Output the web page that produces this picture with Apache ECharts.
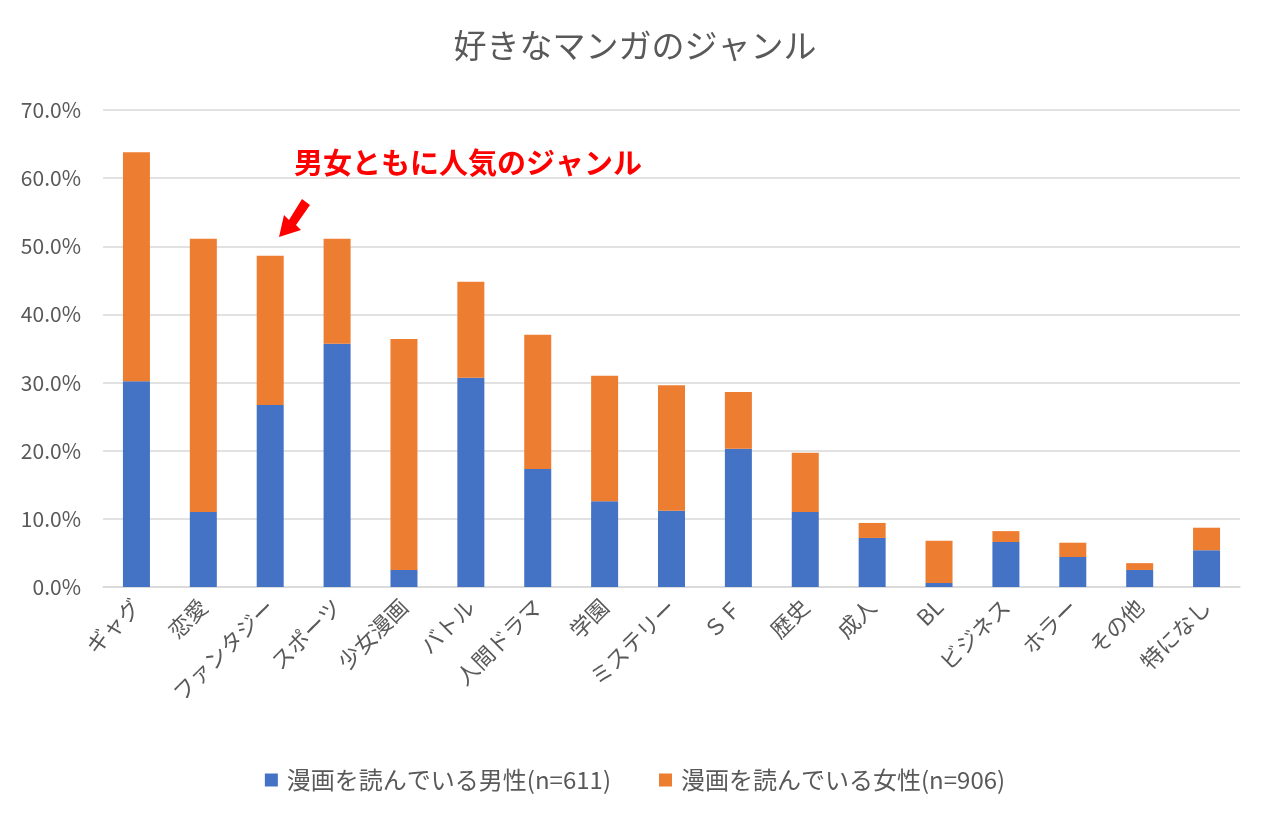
<!DOCTYPE html>
<html><head><meta charset="utf-8">
<script src="https://cdn.jsdelivr.net/npm/echarts@6/dist/echarts.min.js"></script>
<style>html,body{margin:0;padding:0;background:#fff}#c{width:1270px;height:821px}</style>
</head><body><div id="c"></div>
<script>
const categories = ['ギャグ','恋愛','ファンタジー','スポーツ','少女漫画','バトル','人間ドラマ','学園','ミステリー','ＳＦ','歴史','成人','BL','ビジネス','ホラー','その他','特になし'];
const male = [30.2, 11.0, 26.7, 35.7, 2.5, 30.7, 17.3, 12.6, 11.2, 20.3, 11.0, 7.2, 0.6, 6.6, 4.4, 2.5, 5.4];
const female = [33.6, 40.1, 21.9, 15.4, 33.9, 14.1, 19.7, 18.4, 18.4, 8.3, 8.7, 2.2, 6.2, 1.6, 2.1, 1.0, 3.3];
const seriesNames = ['漫画を読んでいる男性(n=611)','漫画を読んでいる女性(n=906)'];
const FONT = '"Noto Sans CJK JP", sans-serif';
const chart = echarts.init(document.getElementById('c'));
chart.setOption({
  animation:false,
  title:{text:'好きなマンガのジャンル',left:'center',top:24,textStyle:{fontFamily:FONT,fontSize:33,fontWeight:'normal',color:'#595959'}},
  grid:{left:103,right:30,top:110,bottom:234},
  legend:{bottom:24,left:'center',itemWidth:13,itemHeight:13,itemGap:48,icon:'rect',
    textStyle:{fontFamily:FONT,fontSize:24,color:'#595959',padding:[0,0,0,4]}},
  xAxis:{type:'category',data:categories,
    axisLine:{lineStyle:{color:'#d9d9d9',width:1.5}},axisTick:{show:false},
    axisLabel:{rotate:45,interval:0,fontFamily:FONT,fontSize:22,color:'#595959',margin:16}},
  yAxis:{type:'value',min:0,max:70,interval:10,
    axisLabel:{formatter:v=>v.toFixed(1)+'%',fontFamily:FONT,fontSize:21,color:'#595959',margin:22},
    splitLine:{lineStyle:{color:'#d9d9d9',width:1.5}},axisLine:{show:false},axisTick:{show:false}},
  series:[
    {name:seriesNames[0],type:'bar',stack:'a',data:male,barWidth:27,itemStyle:{color:'#4472c4'}},
    {name:seriesNames[1],type:'bar',stack:'a',data:female,barWidth:27,itemStyle:{color:'#ed7d31'}}
  ],
  graphic:[
    {type:'text',left:294,top:148,style:{text:'男女ともに人気のジャンル',fontFamily:FONT,fontSize:29,fontWeight:'bold',fill:'#ff0000'}},
    {type:'polygon',shape:{points:[[279,237],[284,215],[289,220],[302,199],[310,205],[296,225],[301,230]]},style:{fill:'#ff0000'}}
  ]
});
</script></body></html>
